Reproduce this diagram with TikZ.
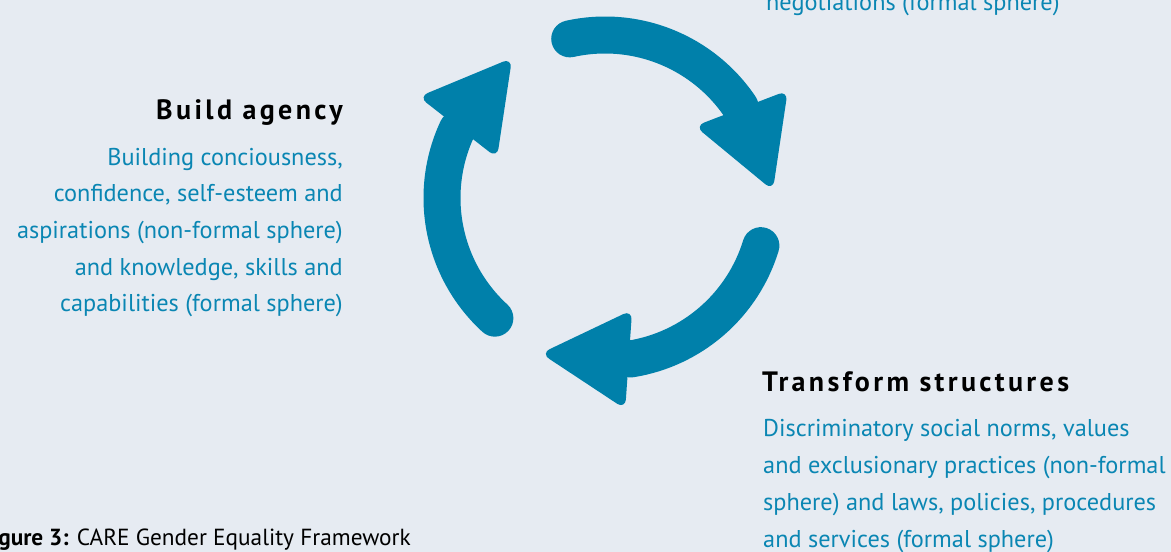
\documentclass[tikz,border=0pt]{standalone}
\usepackage{fontspec}
\setmainfont{PT Sans}
\newfontfamily\headfont{PT Sans}[LetterSpace=12]
\usetikzlibrary{calc}
\definecolor{bgc}{HTML}{E6EBF2}
\definecolor{arrc}{HTML}{0080AA}
\definecolor{txtc}{HTML}{0A86B3}
\tikzset{
  arcline/.style={draw=arrc, line width=37pt, line cap=round},
  headtri/.style={fill=arrc, draw=arrc, line width=2pt, rounded corners=8pt},
  head/.style={font=\headfont\bfseries\fontsize{28}{32}\selectfont, text=black, inner sep=0pt},
  body/.style={font=\fontsize{24.3}{36.7}\selectfont, text=txtc, inner sep=0pt},
}
% #1 base angle, #2 head direction
\newcommand{\arrhead}[2]{%
  \draw[headtri] ($(C)+(#1:163)+(#2+90:48)$) -- ($(C)+(#1:163)+(#2:85)$) -- ($(C)+(#1:163)+(#2-90:48)$) -- cycle;}
\begin{document}
\begin{tikzpicture}[x=1pt,y=1pt]
\clip (0,0) rectangle (1171,552);
\fill[bgc] (0,0) rectangle (1171,552);
\coordinate (C) at (605,354);
% arrow 1 (top)
\draw[arcline] ($(C)+(102.5:163)$) arc[start angle=102.5, end angle=34, radius=163];
\arrhead{33}{-69}
% arrow 2 (bottom right)
\draw[arcline] ($(C)+(-17:163)$) arc[start angle=-17, end angle=-81, radius=163];
\arrhead{-82}{176}
% arrow 3 (left)
\draw[arcline] ($(C)+(-132.5:163)$) arc[start angle=-132.5, end angle=-205, radius=163];
\arrhead{154}{52}
% texts
\node[body, anchor=base west] (neg) at (766,541) {negotiations (formal sphere)};
\node[head, anchor=base east] (ba) at (343,432) {Build agency};
\node[body, anchor=base east, align=right] (bat) at (343,240) {Building conciousness,\\confidence, self-esteem and\\aspirations (non-formal sphere)\\and knowledge, skills and\\capabilities (formal sphere)};
\node[head, anchor=base west] (ts) at (762,160) {Transform structures};
\node[body, anchor=base west, align=left] (tst) at (763,5) {Discriminatory social norms, values\\and exclusionary practices (non-formal\\sphere) and laws, policies, procedures\\and services (formal sphere)};
\node[inner sep=0pt, anchor=base east, font=\fontsize{23.3}{28}\selectfont, text=black] (cap) at (411,6) {\textbf{Figure 3:} CARE Gender Equality Framework};
\end{tikzpicture}
\end{document}
